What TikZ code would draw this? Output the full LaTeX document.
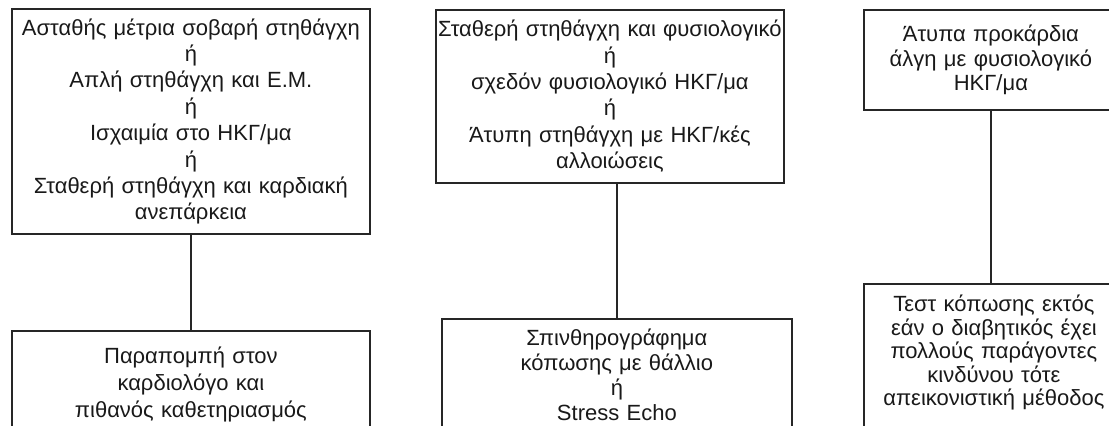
\documentclass[tikz,border=0pt]{standalone}
\usepackage{fontspec}
\setmainfont{Liberation Sans}
\usetikzlibrary{positioning}

\begin{document}
\begin{tikzpicture}[x=0.5pt, y=-0.5pt,
	box/.style={draw=black!85, line width=0.9pt, align=center, inner xsep=1pt, inner ysep=4pt, anchor=north west, text=black!90, font=\fontsize{11}{13.2}\selectfont},
	open/.style={box, text depth=75pt}]
	\useasboundingbox (0,0) rectangle (1109,425);

	\node[box, text width=177pt, minimum height=112.5pt] (t1) at (11,8) {Ασταθής μέτρια σοβαρή στηθάγχη\\ή\\Απλή στηθάγχη και Ε.Μ.\\ή\\Ισχαιμία στο ΗΚΓ/μα\\ή\\Σταθερή στηθάγχη και καρδιακή\\ανεπάρκεια};
	\node[box, text width=172pt, minimum height=86.5pt] (t2) at (435,9) {Σταθερή στηθάγχη και φυσιολογικό\\ή\\σχεδόν φυσιολογικό ΗΚΓ/μα\\ή\\Άτυπη στηθάγχη με ΗΚΓ/κές\\αλλοιώσεις};
	\node[box, text width=125pt, minimum height=50pt, font=\fontsize{11}{12.2}\selectfont] (t3) at (863,9) {Άτυπα προκάρδια\\άλγη με φυσιολογικό\\ΗΚΓ/μα};

	\node[open, text width=177pt, inner ysep=8pt, font=\fontsize{11}{13.4}\selectfont] (b1) at (11,330) {Παραπομπή στον\\καρδιολόγο και\\πιθανός καθετηριασμός};
	\node[open, text width=173pt, inner ysep=5pt, font=\fontsize{11}{12.5}\selectfont] (b2) at (441,318) {Σπινθηρογράφημα\\κόπωσης με θάλλιο\\ή\\Stress Echo};
	\node[open, text width=128pt, inner ysep=5.5pt, font=\fontsize{11}{11.8}\selectfont] (b3) at (863,283) {Τεστ κόπωσης εκτός\\εάν ο διαβητικός έχει\\πολλούς παράγοντες\\κινδύνου τότε\\απεικονιστική μέθοδος};

	\path[draw=black!85, line width=0.9pt] (t1) edge (b1);
	\path[draw=black!85, line width=0.9pt] (t2.south -| b2.north) edge (b2.north);
	\path[draw=black!85, line width=0.9pt] (t3.south) edge (b3.north -| t3.south);
\end{tikzpicture}
\end{document}
